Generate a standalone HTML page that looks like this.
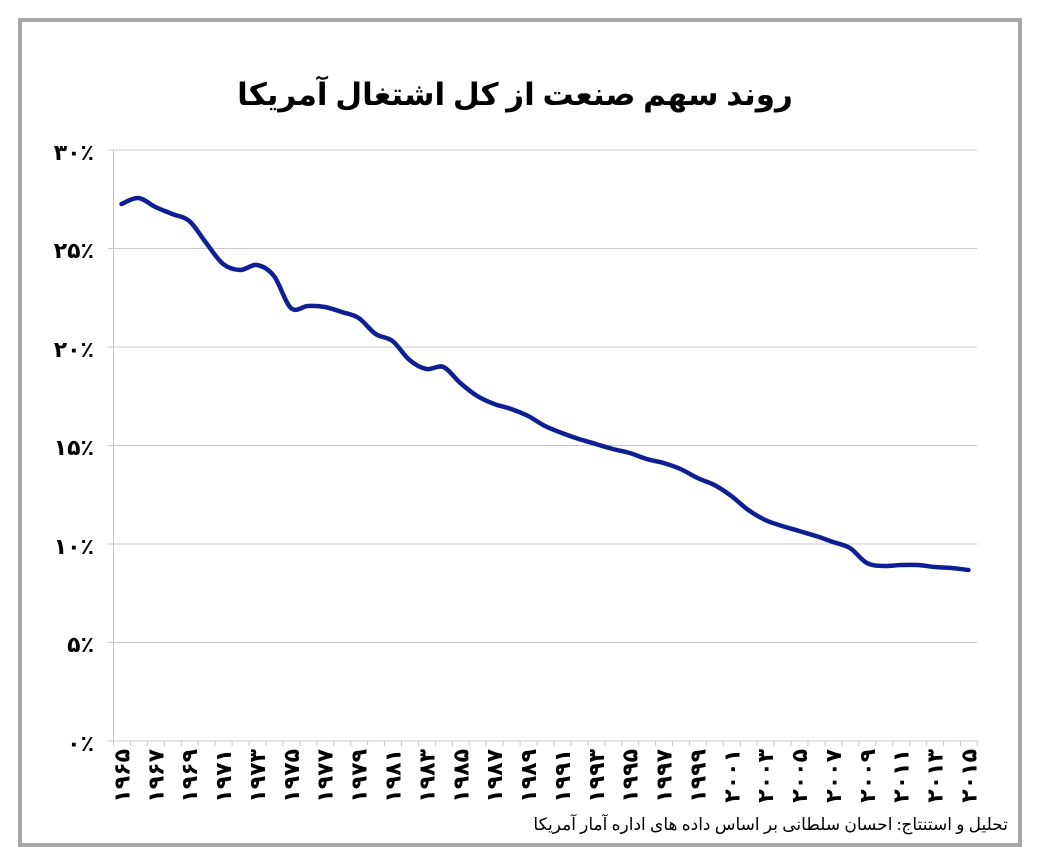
<!DOCTYPE html>
<html><head><meta charset="utf-8"><style>
html,body{margin:0;padding:0;background:#fff;}
svg{display:block;font-family:"Liberation Serif","Noto Sans CJK SC","DejaVu Sans",serif;}
</style></head><body>
<svg width="1039" height="866" viewBox="0 0 1039 866" xmlns="http://www.w3.org/2000/svg">
<rect x="0" y="0" width="1039" height="866" fill="#fff"/>
<rect x="20" y="20" width="1000" height="825" fill="none" stroke="#a6a6a6" stroke-width="4"/>
<text x="515" y="105" text-anchor="middle" font-size="31" font-weight="bold" direction="rtl" fill="#000">روند سهم صنعت از کل اشتغال آمریکا</text>
<g stroke="#c8c8c8" stroke-width="1">
<line x1="108" y1="150" x2="977" y2="150"/>
<line x1="108" y1="248.5" x2="977" y2="248.5"/>
<line x1="108" y1="347" x2="977" y2="347"/>
<line x1="108" y1="445.5" x2="977" y2="445.5"/>
<line x1="108" y1="544" x2="977" y2="544"/>
<line x1="108" y1="642.5" x2="977" y2="642.5"/>
<line x1="108" y1="741" x2="977" y2="741"/>
<line x1="113.5" y1="150" x2="113.5" y2="741"/>
</g>
<g id="ticks" stroke="#c8c8c8" stroke-width="1"></g>
<g font-size="22" font-weight="bold" text-anchor="end" fill="#000">
<text x="94" y="160">۳۰٪</text>
<text x="94" y="258">۲۵٪</text>
<text x="94" y="357">۲۰٪</text>
<text x="94" y="455">۱۵٪</text>
<text x="94" y="554">۱۰٪</text>
<text x="94" y="652">۵٪</text>
<text x="94" y="751">۰٪</text>
</g>
<g font-size="22" font-weight="bold" fill="#000" text-anchor="end" direction="ltr" letter-spacing="1">
<text transform="translate(121.5,749) rotate(-90)" dy="8">۱۹۶۵</text>
<text transform="translate(155.4,749) rotate(-90)" dy="8">۱۹۶۷</text>
<text transform="translate(189.2,749) rotate(-90)" dy="8">۱۹۶۹</text>
<text transform="translate(223.1,749) rotate(-90)" dy="8">۱۹۷۱</text>
<text transform="translate(257.0,749) rotate(-90)" dy="8">۱۹۷۳</text>
<text transform="translate(290.9,749) rotate(-90)" dy="8">۱۹۷۵</text>
<text transform="translate(324.7,749) rotate(-90)" dy="8">۱۹۷۷</text>
<text transform="translate(358.6,749) rotate(-90)" dy="8">۱۹۷۹</text>
<text transform="translate(392.5,749) rotate(-90)" dy="8">۱۹۸۱</text>
<text transform="translate(426.4,749) rotate(-90)" dy="8">۱۹۸۳</text>
<text transform="translate(460.3,749) rotate(-90)" dy="8">۱۹۸۵</text>
<text transform="translate(494.1,749) rotate(-90)" dy="8">۱۹۸۷</text>
<text transform="translate(528.0,749) rotate(-90)" dy="8">۱۹۸۹</text>
<text transform="translate(561.9,749) rotate(-90)" dy="8">۱۹۹۱</text>
<text transform="translate(595.8,749) rotate(-90)" dy="8">۱۹۹۳</text>
<text transform="translate(629.7,749) rotate(-90)" dy="8">۱۹۹۵</text>
<text transform="translate(663.5,749) rotate(-90)" dy="8">۱۹۹۷</text>
<text transform="translate(697.4,749) rotate(-90)" dy="8">۱۹۹۹</text>
<text transform="translate(731.3,749) rotate(-90)" dy="8">۲۰۰۱</text>
<text transform="translate(765.2,749) rotate(-90)" dy="8">۲۰۰۳</text>
<text transform="translate(799.1,749) rotate(-90)" dy="8">۲۰۰۵</text>
<text transform="translate(832.9,749) rotate(-90)" dy="8">۲۰۰۷</text>
<text transform="translate(866.8,749) rotate(-90)" dy="8">۲۰۰۹</text>
<text transform="translate(900.7,749) rotate(-90)" dy="8">۲۰۱۱</text>
<text transform="translate(934.6,749) rotate(-90)" dy="8">۲۰۱۳</text>
<text transform="translate(968.5,749) rotate(-90)" dy="8">۲۰۱۵</text>
</g>
<path id="line" d="" fill="none" stroke="#0d1f92" stroke-width="4.5" stroke-linecap="round" stroke-linejoin="round"/>
<text x="1008" y="830" text-anchor="start" font-size="17" direction="rtl" fill="#000">تحلیل و استنتاج: احسان سلطانی بر اساس داده های اداره آمار آمریکا</text>
</svg>
<script>
var ys=[204,198,207,214,221,243,264,270,265,276,308,306,307,312,318,334,341,360,369,367,383,396,404,409,416,426,433,439,444,449,453,459,463,469,478,485,496,510,520,526,531,536,542,548,563,566,565,565,567,568,570];
var pts=ys.map(function(y,i){return [121.5+16.94*i,y];});
var d="M"+pts[0][0]+","+pts[0][1];
for(var i=0;i<pts.length-1;i++){
 var p0=pts[Math.max(0,i-1)],p1=pts[i],p2=pts[i+1],p3=pts[Math.min(pts.length-1,i+2)];
 var c1x=p1[0]+(p2[0]-p0[0])/6,c1y=p1[1]+(p2[1]-p0[1])/6;
 var c2x=p2[0]-(p3[0]-p1[0])/6,c2y=p2[1]-(p3[1]-p1[1])/6;
 d+=" C"+c1x.toFixed(1)+","+c1y.toFixed(1)+" "+c2x.toFixed(1)+","+c2y.toFixed(1)+" "+p2[0].toFixed(1)+","+p2[1];
}
document.getElementById("line").setAttribute("d",d);
var g=document.getElementById("ticks"),s="";
for(var k=0;k<=51;k++){var x=113.5+16.94*k;s+='<line x1="'+x.toFixed(1)+'" y1="741" x2="'+x.toFixed(1)+'" y2="746"/>';}
g.innerHTML=s;
</script>
</body></html>
